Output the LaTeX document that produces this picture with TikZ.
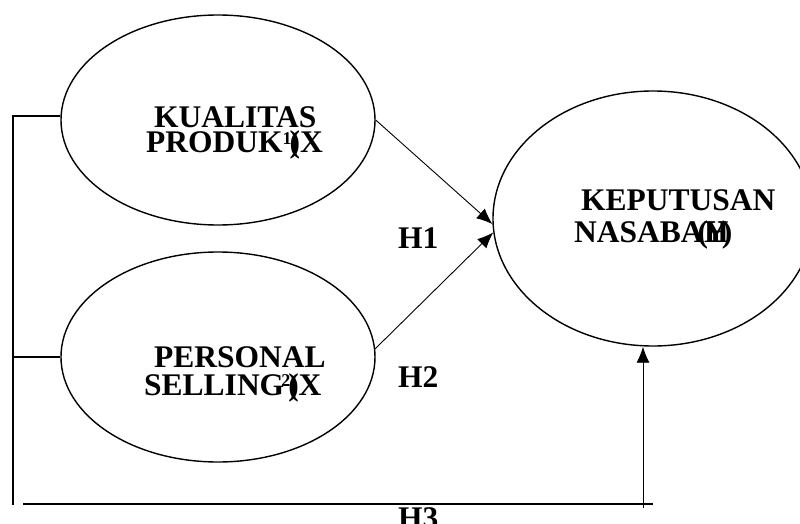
\documentclass[tikz,border=0pt]{standalone}
\usepackage{fontspec}
\setmainfont{Liberation Serif}
\usetikzlibrary{shapes.geometric,arrows.meta}
\tikzset{
  oval/.style={ellipse,draw,line width=1.4pt,inner sep=0pt},
  lbl/.style={anchor=base west,inner sep=0pt,font=\fontsize{31.5}{31.5}\selectfont\bfseries},
  conn/.style={line width=1.3pt},
  arr/.style={line width=0.9pt,-{Latex[length=16pt,width=13pt]}}
}
\newcommand{\supn}[1]{{\fontsize{18}{18}\selectfont\raisebox{9pt}{#1}}}
\begin{document}
\begin{tikzpicture}[x=1pt,y=-1pt]
\useasboundingbox (0,0) rectangle (800,524);
\node[oval,minimum width=314pt,minimum height=210pt] (e1) at (218,120) {};
\node[oval,minimum width=314pt,minimum height=210pt] (e2) at (218,357) {};
\node[oval,minimum width=320pt,minimum height=255pt] (e3) at (653,218.5) {};
\node[lbl] (t1a) at (154,128) {KUALITAS};
\node[lbl] (t1b) at (146,153) {PRODUK\supn{1}\kern-2pt\rlap{)}(X};
\node[lbl] (t2a) at (154,367) {PERSONAL};
\node[lbl] (t2b) at (144,395) {SELLING\kern-3pt\supn{2}\kern-2pt\rlap{)}(X};
\node[lbl] (t3a) at (581,210) {KEPUTUSAN};
\node[lbl] (t3b) at (574,242) {NASABA\kern-6pt(\kern-4pt\rlap{H}Y\kern-5pt)};
\node[lbl] (h1) at (398,248) {H1};
\node[lbl] (h2) at (398,387) {H2};
\node[lbl] (h3) at (398,528) {H3};
\coordinate (L1) at (13,116);
\coordinate (Lb) at (13,505);
\coordinate (B0) at (23,504);
\coordinate (B1) at (653,504);
\coordinate (V0) at (643,508);
\draw[conn] (e1.west |- L1) -- (L1) -- (Lb);
\draw[conn] (e2.west) -- (e2.west -| L1);
\draw[conn] (B0) -- (B1);
\draw[arr] (e1.east) -- (e3.182);
\draw[arr] (e2.3) -- (e3.185);
\draw[arr] (V0) -- (V0 |- e3.south);
\end{tikzpicture}
\end{document}
